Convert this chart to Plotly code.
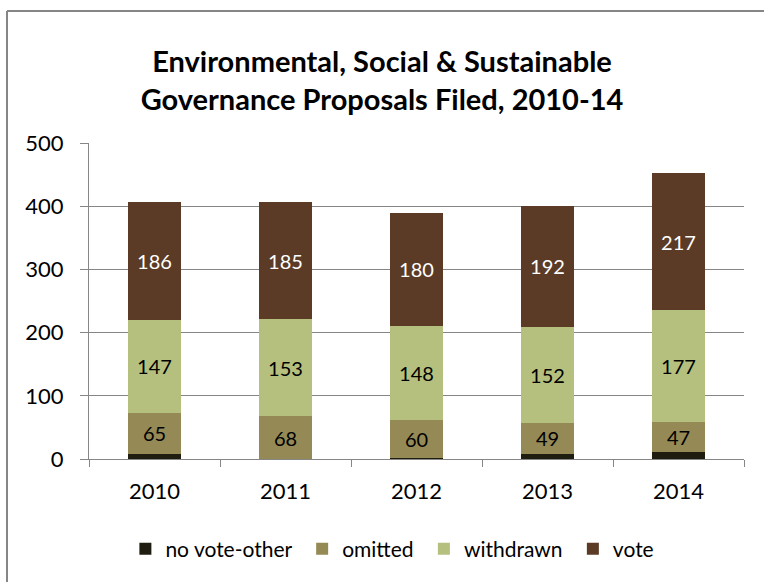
import plotly.graph_objects as go

years = ["2010", "2011", "2012", "2013", "2014"]
no_vote_other = [8, 0, 2, 8, 11]
omitted = [65, 68, 60, 49, 47]
withdrawn = [147, 153, 148, 152, 177]
vote = [186, 185, 180, 192, 217]

FONT = "Lato"
series = [
    ("no vote-other", no_vote_other, "#1F1D10", None, "black"),
    ("omitted", omitted, "#958A55", omitted, "black"),
    ("withdrawn", withdrawn, "#B5C07E", withdrawn, "black"),
    ("vote", vote, "#5B3B26", vote, "white"),
]

fig = go.Figure()
for name, vals, color, labels, tcolor in series:
    fig.add_trace(go.Bar(
        x=years, y=vals, name=name + "\u00a0",
        marker=dict(color=color, line=dict(width=0)),
        text=[str(v) for v in labels] if labels else None,
        textposition="inside" if labels else "none",
        insidetextanchor="middle",
        textangle=0,
        constraintext="none",
        textfont=dict(family=FONT, size=20, color=tcolor),
        hoverinfo="skip",
    ))

fig.update_layout(
    barmode="stack",
    bargap=0.6,
    width=764, height=582,
    margin=dict(l=89, r=20, t=143, b=123),
    paper_bgcolor="white",
    plot_bgcolor="white",
    font=dict(family=FONT, size=21, color="black"),
    title=dict(
        text="<b>Environmental, Social & Sustainable<br>Governance Proposals Filed, 2010-14</b>",
        x=0.5, xanchor="center", y=0.876, yanchor="middle",
        font=dict(family=FONT, size=29, color="black"),
    ),
    legend=dict(
        orientation="h", x=0.467, xanchor="center", y=-0.285, yanchor="middle",
        font=dict(family=FONT, size=21), traceorder="normal",
        itemwidth=30, itemsizing="constant",
    ),
    showlegend=True,
    xaxis=dict(
        showline=True, linecolor="#868686", linewidth=1,
        ticks="outside", tickson="boundaries", ticklen=7, tickcolor="#868686",
        tickfont=dict(family=FONT, size=22),
        showgrid=False,
        ticklabelstandoff=13,
    ),
    yaxis=dict(
        range=[0, 500], dtick=100,
        showline=True, linecolor="#868686", linewidth=1,
        ticks="outside", ticklen=8, tickcolor="#868686",
        showgrid=True, gridcolor="#868686", gridwidth=1,
        tickfont=dict(family=FONT, size=22),
        zeroline=False,
        ticklabelstandoff=12,
    ),
)

fig.add_shape(type="line", xref="paper", yref="paper",
              x0=(7 - 89) / 655, x1=(7 - 89) / 655, y0=(459 - 11) / 316, y1=-0.5,
              line=dict(color="#868686", width=2))
fig.add_shape(type="line", xref="paper", yref="paper",
              x0=(7 - 89) / 655, x1=1.1, y0=(459 - 11) / 316, y1=(459 - 11) / 316,
              line=dict(color="#868686", width=2))

fig.write_html("out.html")
